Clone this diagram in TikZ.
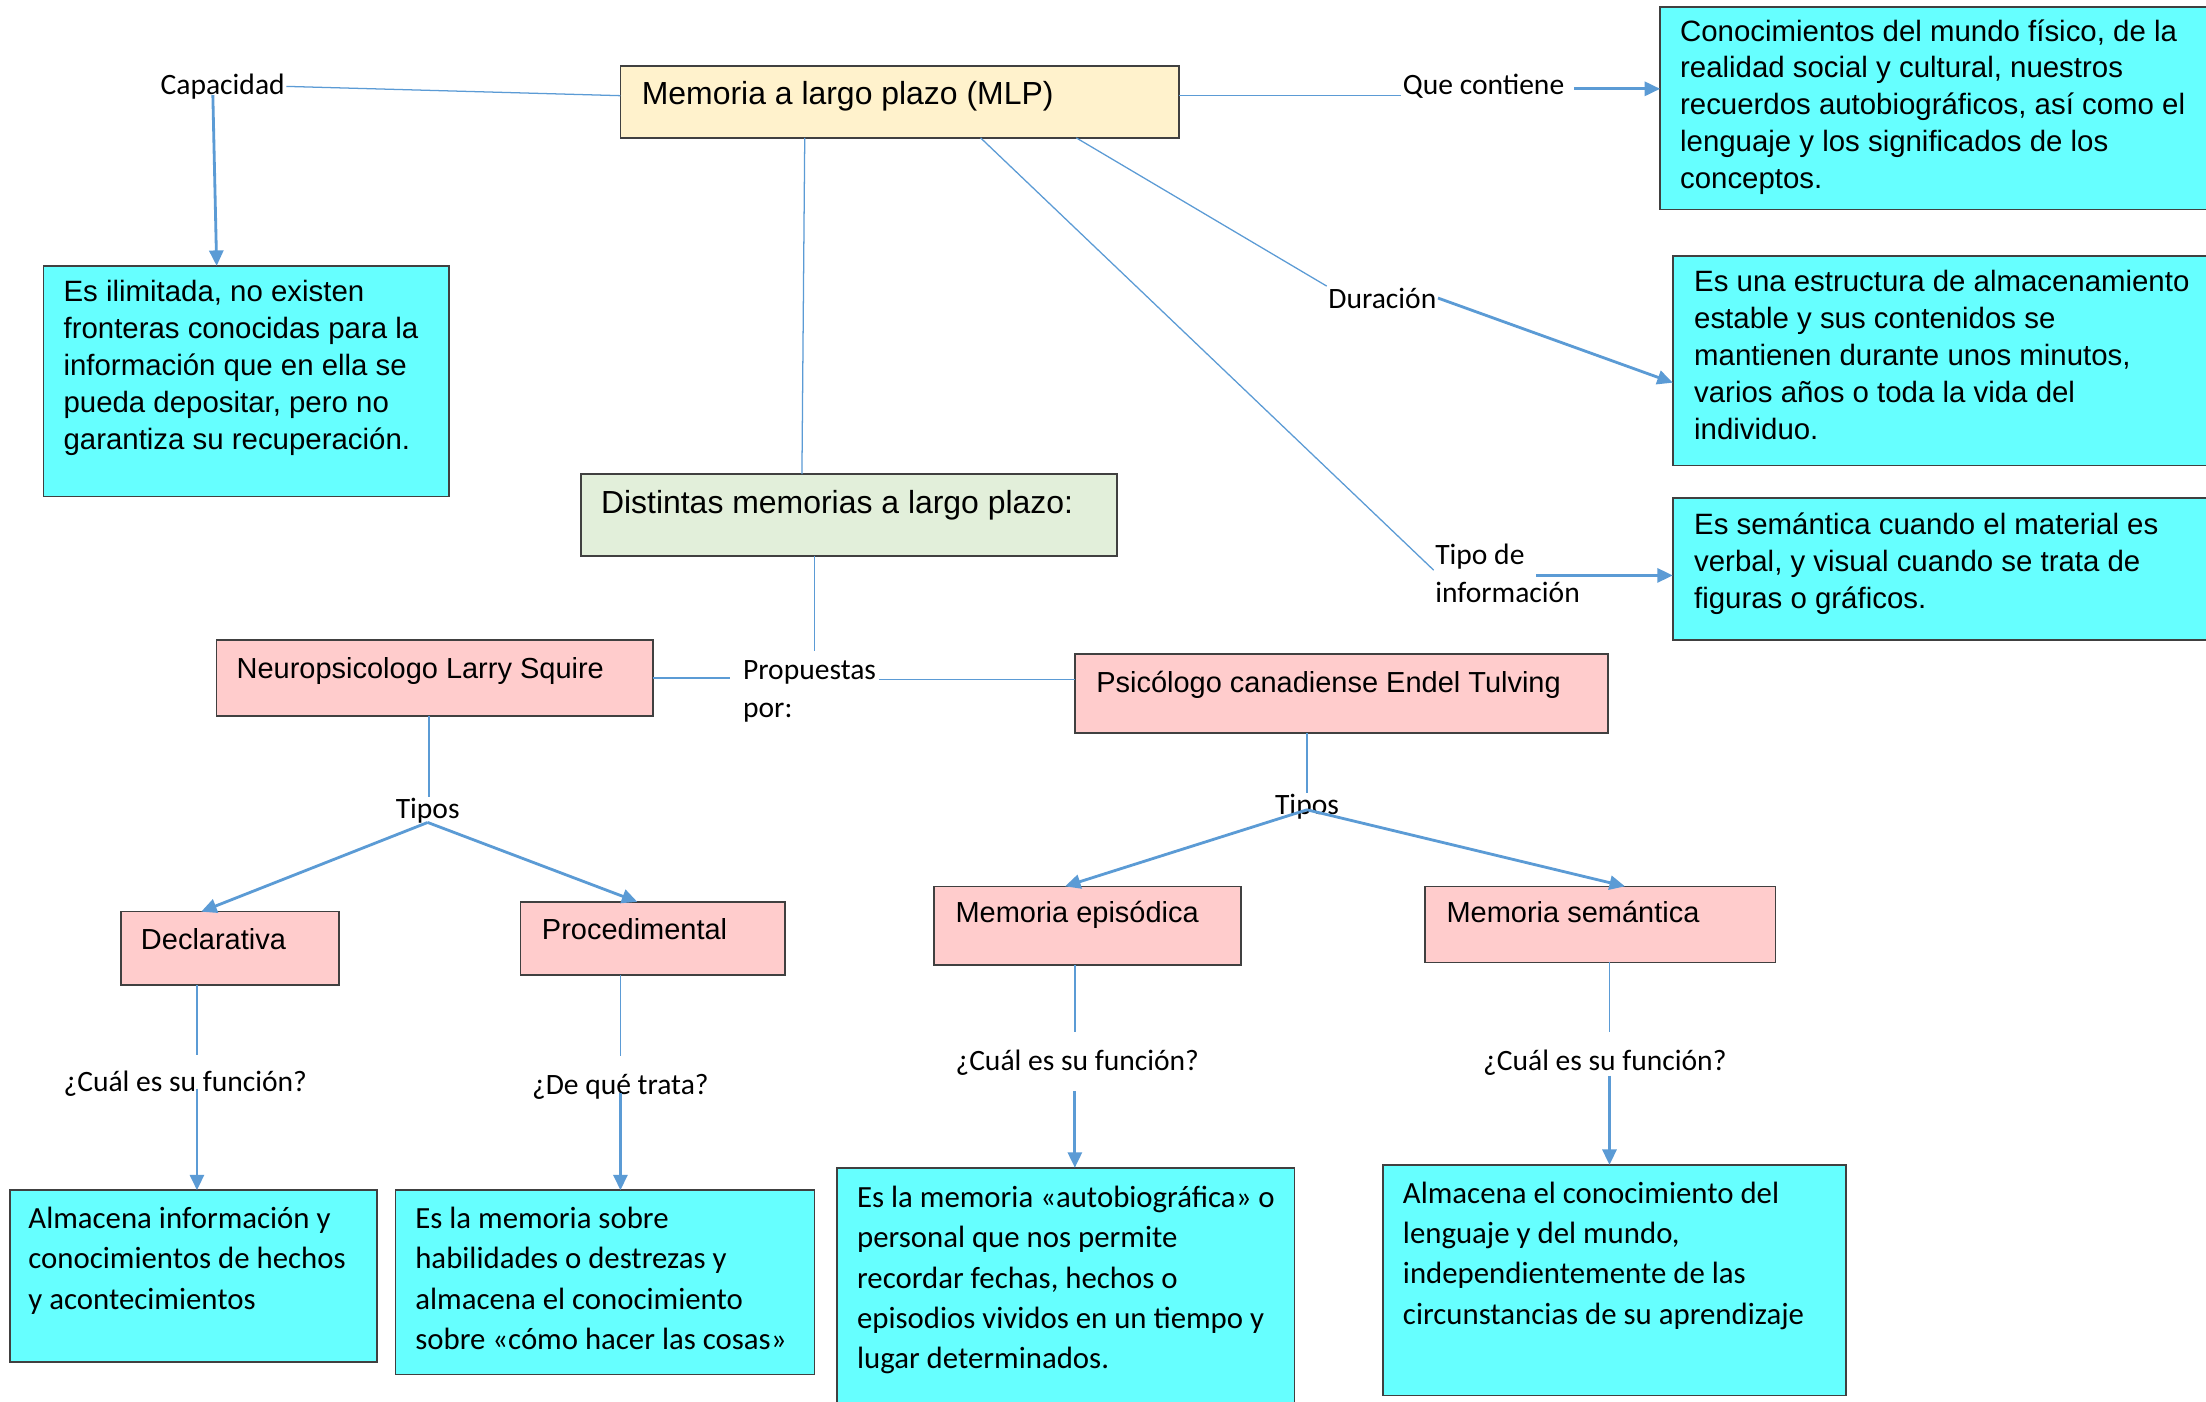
\documentclass[tikz,border=0pt]{standalone}
\usepackage{fontspec}
\usetikzlibrary{arrows.meta,calc}
\newfontfamily\arialf{Liberation Sans}
\newfontfamily\calf{Carlito}
\definecolor{lnk}{HTML}{5B9BD5}
\definecolor{cream}{HTML}{FFF2CC}
\definecolor{mint}{HTML}{E2EFDA}
\definecolor{rosa}{HTML}{FFCCCC}
\definecolor{cian}{HTML}{66FFFF}
\begin{document}
\begin{tikzpicture}[x=1pt,y=-1pt,
 box/.style={draw=black!75, line width=1.1pt, anchor=north west, inner sep=0pt, outer sep=0pt},
 ttl/.style={anchor=base west, inner sep=0pt, font=\arialf\fontsize{20.6}{26.25}\selectfont},
 bigttl/.style={anchor=base west, inner sep=0pt, font=\arialf\fontsize{22.7}{27}\selectfont},
 bodyA/.style={anchor=north west, inner sep=0pt, align=left, font=\arialf\fontsize{20.9}{26.25}\selectfont},
 bodyC/.style={anchor=north west, inner sep=0pt, align=left, font=\calf\fontsize{21.9}{28.7}\selectfont},
 lbl/.style={inner sep=1pt, font=\calf\fontsize{21}{27}\selectfont},
 conn/.style={draw=lnk, line width=0.9pt},
 arr/.style={draw=lnk, line width=2pt, -{Triangle[length=11pt,width=10pt]}},
]
\clip (0,0) rectangle (1568,996);
\fill[white] (0,0) rectangle (1568,996);

% ---- boxes ----
\node[box, fill=cream, minimum width=397pt, minimum height=51pt] (mlp) at (441,47) {};
\node[bigttl] (mlpt) at ($(mlp.north west)+(15,27)$) {Memoria a largo plazo (MLP)};

\node[box, fill=cian, minimum width=288pt, minimum height=164pt] (capbox) at (31,189) {};
\node[bodyA] (capt) at (45,195.6) {\strut Es ilimitada, no existen\\fronteras conocidas para la\\información que en ella se\\pueda depositar, pero no\\garantiza su recuperación.};

\node[box, fill=cian, minimum width=400pt, minimum height=144pt] (b1) at (1180,5) {};
\node[bodyA] (b1t) at (1194,10.6) {\strut Conocimientos del mundo físico, de la\\realidad social y cultural, nuestros\\recuerdos autobiográficos, así como el\\lenguaje y los significados de los\\conceptos.};

\node[box, fill=cian, minimum width=400pt, minimum height=149pt] (b2) at (1189,182) {};
\node[bodyA] (b2t) at (1204,188.6) {\strut Es una estructura de almacenamiento\\estable y sus contenidos se\\mantienen durante unos minutos,\\varios años o toda la vida del\\individuo.};

\node[box, fill=cian, minimum width=400pt, minimum height=101pt] (b3) at (1189,354) {};
\node[bodyA] (b3t) at (1204,361.6) {\strut Es semántica cuando el material es\\verbal, y visual cuando se trata de\\figuras o gráficos.};

\node[box, fill=mint, minimum width=381pt, minimum height=58pt] (dist) at (413,337) {};
\node[bigttl] (distt) at ($(dist.north west)+(14,28)$) {Distintas memorias a largo plazo:};

\node[box, fill=rosa, minimum width=310pt, minimum height=54pt] (squire) at (154,455) {};
\node[ttl] (squiret) at ($(squire.north west)+(14,27)$) {Neuropsicologo Larry Squire};

\node[box, fill=rosa, minimum width=379pt, minimum height=56pt] (tulv) at (764,465) {};
\node[ttl] (tulvt) at ($(tulv.north west)+(15,27)$) {Psicólogo canadiense Endel Tulving};

\node[box, fill=rosa, minimum width=155pt, minimum height=52pt] (decl) at (86,648) {};
\node[ttl] (declt) at ($(decl.north west)+(14,27)$) {Declarativa};

\node[box, fill=rosa, minimum width=188pt, minimum height=52pt] (proc) at (370,641) {};
\node[ttl] (proct) at ($(proc.north west)+(15,27)$) {Procedimental};

\node[box, fill=rosa, minimum width=218pt, minimum height=56pt] (epi) at (664,630) {};
\node[ttl] (epit) at ($(epi.north west)+(15,26)$) {Memoria episódica};

\node[box, fill=rosa, minimum width=249pt, minimum height=54pt] (sem) at (1013,630) {};
\node[ttl] (semt) at ($(sem.north west)+(15,26)$) {Memoria semántica};

\node[box, fill=cian, minimum width=261pt, minimum height=122pt] (declbox) at (7,846) {};
\node[bodyC] (declboxt) at (20,852.9) {\strut Almacena información y\\conocimientos de hechos\\y acontecimientos};

\node[box, fill=cian, minimum width=298pt, minimum height=131pt] (procbox) at (281,846) {};
\node[bodyC] (procboxt) at (295,852.9) {\strut Es la memoria sobre\\habilidades o destrezas y\\almacena el conocimiento\\sobre «cómo hacer las cosas»};

\node[box, fill=cian, minimum width=325pt, minimum height=180pt] (epibox) at (595,830) {};
\node[bodyC] (epiboxt) at (609,837.9) {\strut Es la memoria «autobiográfica» o\\personal que nos permite\\recordar fechas, hechos o\\episodios vividos en un tiempo y\\lugar determinados.};

\node[box, fill=cian, minimum width=329pt, minimum height=164pt] (sembox) at (983,828) {};
\node[bodyC] (semboxt) at (997,834.9) {\strut Almacena el conocimiento del\\lenguaje y del mundo,\\independientemente de las\\circunstancias de su aprendizaje};

% ---- labels ----
\node[lbl, anchor=base west] (cap) at (113,67) {Capacidad};
\node[lbl, anchor=base west] (qc) at (996,67) {Que contiene};
\node[lbl, anchor=base west] (dur) at (943,219) {Duración};
\node[lbl, anchor=north west, align=left] (tipo) at (1019,381) {\strut Tipo de\\información};
\node[lbl, anchor=north west, align=left] (prop) at (527,463) {\strut Propuestas\\por:};
\node[lbl, anchor=base] (tp1) at (304,582) {Tipos};
\node[lbl, anchor=base] (tp2) at (929,579) {Tipos};
\node[lbl, anchor=base west] (f1) at (44,776) {¿Cuál es su función?};
\node[lbl, anchor=base west] (f2) at (377,778) {¿De qué trata?};
\node[lbl, anchor=base west] (f3) at (678,761) {¿Cuál es su función?};
\node[lbl, anchor=base west] (f4) at (1053,761) {¿Cuál es su función?};

% ---- connectors ----
\draw[conn] ($(mlp.north west)+(0,21)$) -- (cap.east);
\draw[arr] ($(cap.south)+(-7,-4)$) -- ($(capbox.north west)+(123,0)$);

\draw[conn] ($(mlp.north east)+(0,21)$) coordinate (m1) -- (m1 -| qc.west);
\draw[arr] ($(qc.east)+(6,2)$) coordinate (q1) -- (q1 -| b1.west);

\draw[conn] ($(mlp.south west)+(324,0)$) -- (dur.north west);
\draw[arr] (dur.east) -- ($(b2.north west)+(0,90)$);

\draw[conn] ($(mlp.south west)+(256,0)$) -- (tipo.west);
\draw[arr] ($(tipo.north west)+(73,28)$) coordinate (t1) -- (t1 -| b3.west);

\draw[conn] ($(mlp.south west)+(131,0)$) -- ($(dist.north west)+(157,0)$);
\draw[conn] ($(dist.south west)+(166,0)$) coordinate (d1) -- (d1 |- prop.north);
\draw[conn] (squire.east) -- ($(squire.east -| prop.west)+(-8,0)$);
\draw[conn] ($(prop.north east)+(1,20)$) coordinate (p1) -- (p1 -| tulv.west);

\draw[conn] ($(squire.south west)+(151,0)$) coordinate (s1) -- (s1 |- tp1.north);
\draw[arr] ($(tp1.south)+(0,-2)$) -- ($(decl.north west)+(57,0)$);
\draw[arr] ($(tp1.south)+(0,-2)$) -- ($(proc.north west)+(83,0)$);

\draw[conn] ($(tulv.south west)+(165,0)$) coordinate (s2) -- (s2 |- tp2.north);
\draw[arr] ($(tp2.south)+(0,-8)$) -- ($(epi.north west)+(93,0)$);
\draw[arr] ($(tp2.south)+(0,-8)$) -- ($(sem.north west)+(142,0)$);

\draw[conn] ($(decl.south west)+(54,0)$) coordinate (e1) -- ($(e1 |- f1.north)+(0,-10)$);
\draw[arr] ($(e1 |- f1.south)+(0,-7)$) -- (e1 |- declbox.north);

\draw[conn] ($(proc.south west)+(71,0)$) coordinate (e2) -- ($(e2 |- f2.north)+(0,-12)$);
\draw[arr] ($(e2 |- f2.south)+(0,-6)$) -- (e2 |- procbox.north);

\draw[conn] ($(epi.south west)+(100,0)$) coordinate (e3) -- ($(e3 |- f3.north)+(0,-12)$);
\draw[arr] ($(e3 |- f3.south)+(0,10)$) -- (e3 |- epibox.north);

\draw[conn] ($(sem.south west)+(131,0)$) coordinate (e4) -- ($(e4 |- f4.north)+(0,-12)$);
\draw[arr] ($(e4 |- f4.south)+(0,-1)$) -- (e4 |- sembox.north);
\end{tikzpicture}
\end{document}
